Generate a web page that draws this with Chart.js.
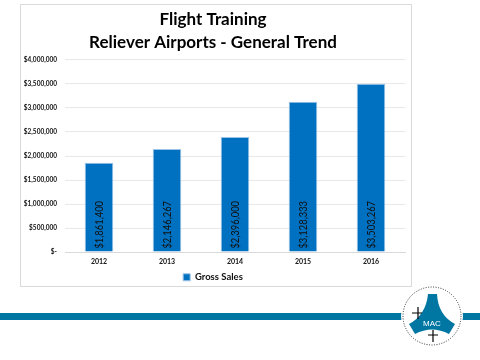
<!DOCTYPE html>
<html><head><meta charset="utf-8">
<script src="https://cdn.jsdelivr.net/npm/chart.js@4/dist/chart.umd.min.js"></script>
<style>
html,body{margin:0;padding:0;background:#fff;width:480px;height:360px;overflow:hidden;font-family:Lato,sans-serif}
#box{position:absolute;left:20px;top:4px;width:392px;height:283px;border:1px solid #d9d9d9;box-sizing:border-box}
#c{position:absolute;left:21px;top:5px}
#stripe{position:absolute;left:0;top:313px;width:480px;height:7px;background:#0076a3}
#logo{position:absolute;left:399px;top:283px}
</style></head><body>
<div id="box"></div>
<canvas id="c" width="390" height="287"></canvas>
<div id="stripe"></div>
<canvas id="logo" width="66" height="66"></canvas>
<script>
const categories = ['2012','2013','2014','2015','2016'];
const grossSales = [1861400, 2146267, 2396000, 3128333, 3503267];
const titleLines = ['Flight Training','Reliever Airports - General Trend'];
const seriesName = 'Gross Sales';

function money(v){ return v===0 ? '$-' : '$' + Math.round(v).toLocaleString('en-US'); }

const barLabels = {
  id:'barLabels',
  afterDatasetsDraw(chart){
    const ctx = chart.ctx;
    const meta = chart.getDatasetMeta(0);
    ctx.save();
    ctx.font = '11px Lato, sans-serif';
    ctx.fillStyle = '#111';
    ctx.textBaseline = 'middle';
    ctx.textAlign = 'left';
    meta.data.forEach((bar,i)=>{
      ctx.save();
      ctx.translate(bar.x, bar.base - 3);
      ctx.rotate(-Math.PI/2);
      ctx.scale(0.85,1);
      ctx.fillText(money(grossSales[i]), 0, 0);
      ctx.restore();
    });
    ctx.restore();
  }
};

new Chart(document.getElementById('c'), {
  type:'bar',
  data:{ labels:categories, datasets:[{ label:seriesName, data:grossSales,
    backgroundColor:'#0070c0', borderColor:'#9dc3e6', borderWidth:1, categoryPercentage:1, barPercentage:0.42 }]},
  options:{
    responsive:false, animation:false, devicePixelRatio:1,
    layout:{ padding:{ left:0, right:6, top:2, bottom:0 } },
    plugins:{
      title:{ display:true, text:titleLines, color:'#000', font:{ family:'Lato', size:17, weight:'bold', lineHeight:1.35 }, padding:{ top:1, bottom:6 } },
      legend:{ position:'bottom', labels:{ boxWidth:7, boxHeight:7, color:'#111', font:{ family:'Lato', size:9.5, weight:'bold' }, padding:2 } },
      tooltip:{ enabled:false }
    },
    scales:{
      x:{ grid:{ display:false, drawTicks:false }, border:{ display:true, color:'#d9d9d9' },
          ticks:{ color:'#111', font:{ family:'Lato', size:7, weight:'bold' }, padding:5 } },
      y:{ min:0, max:4000000, grid:{ color:'#e8e8e8', drawTicks:false }, border:{ display:false },
          afterFit(s){ s.width = 44; },
          ticks:{ stepSize:500000, color:'#111', padding:8, font:{ family:'Lato', size:6.5, weight:'bold' }, callback:(v)=>money(v) } }
    }
  },
  plugins:[barLabels]
});

// simple MAC emblem
(function(){
  const g = document.getElementById('logo').getContext('2d');
  g.fillStyle='#fff'; g.beginPath(); g.arc(33,33,31,0,Math.PI*2); g.fill();
  g.strokeStyle='#333'; g.lineWidth=1; g.setLineDash([1,1.5]);
  g.beginPath(); g.arc(33,33,29,0,Math.PI*2); g.stroke(); g.setLineDash([]);
  g.fillStyle='#0076a3';
  g.beginPath();
  g.moveTo(29,11); g.lineTo(38,11);
  g.quadraticCurveTo(39,32,56,41);
  g.lineTo(50,51);
  g.quadraticCurveTo(33,42,16,51);
  g.lineTo(10,41);
  g.quadraticCurveTo(27,32,29,11);
  g.fill();
  g.fillStyle='#fff'; g.font='8px "Liberation Sans", sans-serif'; g.textAlign='center';
  g.fillText('MAC',33,43);
  g.strokeStyle='#000'; g.lineWidth=1.2;
  g.beginPath(); g.moveTo(13,30); g.lineTo(23,30); g.moveTo(19,24); g.lineTo(19,36); g.stroke();
  g.beginPath(); g.moveTo(29,52); g.lineTo(39,52); g.moveTo(34,47); g.lineTo(34,59); g.stroke();
})();
</script>
</body></html>
